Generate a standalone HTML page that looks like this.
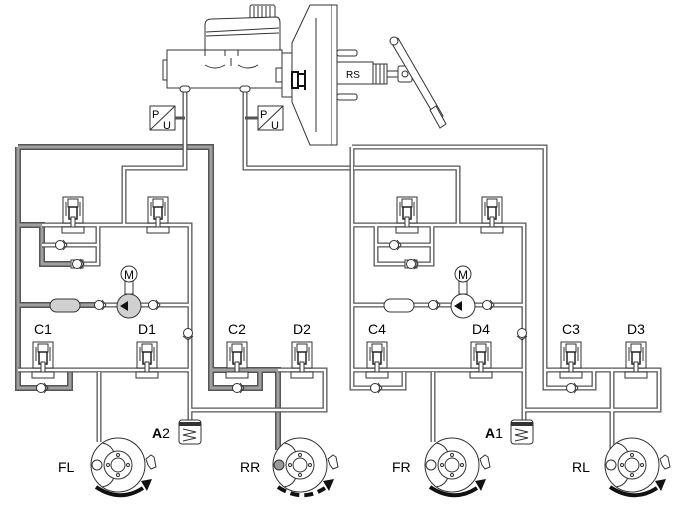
<!DOCTYPE html>
<html><head><meta charset="utf-8"><style>
html,body{margin:0;padding:0;background:#fff;}
svg{display:block;}
text{font-family:"Liberation Sans",sans-serif;}
</style></head><body>
<svg width="674" height="512" viewBox="0 0 674 512" xmlns="http://www.w3.org/2000/svg">
<defs>
<g id="valve">
 <rect x="-10" y="-14" width="20" height="26" fill="#fff" stroke="#333" stroke-width="1"/>
 <rect x="-5" y="-12" width="10" height="8" fill="#fff" stroke="#333" stroke-width="1"/>
 <rect x="-4" y="-4" width="8" height="12" fill="#fff" stroke="#222" stroke-width="1.5"/>
 <path d="M-8,-8h2M-8,-6h2M-8,-4h2M-8,-2h2M-8,0h2M-8,2h2M-8,4h2M6,-8h2M6,-6h2M6,-4h2M6,-2h2M6,0h2M6,2h2M6,4h2" stroke="#333" stroke-width="1"/>
 <rect x="-2" y="6" width="4" height="10" fill="#fff" stroke="#333" stroke-width="1"/>
 <rect x="-11" y="16" width="22" height="6" fill="#fff" stroke="#333" stroke-width="1"/>
</g>
<g id="chk">
 <circle r="4.5" fill="#fff" stroke="#333" stroke-width="1"/>
 <path d="M3,-5 L7,0 L3,5" fill="none" stroke="#333" stroke-width="1"/>
</g>
<g id="chkv">
 <circle r="4.5" fill="#fff" stroke="#333" stroke-width="1"/>
 <path d="M-5,3 L0,7 L5,3" fill="none" stroke="#333" stroke-width="1"/>
</g>
<g id="wheel">
 <circle r="27" fill="#fff" stroke="#333" stroke-width="1"/>
 <path d="M-16,-22 Q-2,-20 -2,0 Q-2,20 -16,22" fill="#fff" stroke="#333" stroke-width="1"/>
 <circle r="14" fill="#fff" stroke="#333" stroke-width="1"/>
 <circle r="7" fill="#fff" stroke="#333" stroke-width="1"/>
 <circle cx="0" cy="-10" r="1.5" fill="#fff" stroke="#333"/>
 <circle cx="0" cy="10" r="1.5" fill="#fff" stroke="#333"/>
 <circle cx="-10" cy="0" r="1.5" fill="#fff" stroke="#333"/>
 <circle cx="10" cy="0" r="1.5" fill="#fff" stroke="#333"/>
 <path d="M28,-6 l5,-4 l3,2 l2,10 l-5,2 l-3,-4 z" fill="#fff" stroke="#333"/>
</g>
<g id="acc">
 <rect x="-11" y="0" width="22" height="24" rx="3" fill="#fff" stroke="#333"/>
 <rect x="-11" y="2" width="22" height="4" fill="#333"/>
 <path d="M-7,9 L6,12 L-7,15 L6,18 L-7,21" fill="none" stroke="#333"/>
</g>
</defs>

<!-- ===== Pipes left module ===== -->
<g fill="none" stroke-linejoin="miter">
 <!-- gray active -->
 <g stroke="#555" stroke-width="6">
  <path d="M18,147 H211 V388 H260 V370"/>
  <path d="M18,147 V388 H70 V372"/>
  <path d="M18,225 H42 V264 H70"/>
  <path d="M18,305 H100"/>
  <path d="M211,370 H278 V450"/>
 </g>
 <g stroke="#a0a0a0" stroke-width="3">
  <path d="M18,147 H211 V388 H260 V370"/>
  <path d="M18,147 V388 H70 V372"/>
  <path d="M18,225 H42 V264 H70"/>
  <path d="M18,305 H100"/>
  <path d="M211,370 H278 V450"/>
 </g>
 <!-- white pipes -->
 <g id="wp" stroke="#555" stroke-width="5">
  <path d="M185,90 V168 H124 V225"/>
  <path d="M42,225 H190 V420"/>
  <path d="M42,245 H98 M70,264 H98 V225"/>
  <path d="M100,305 H190"/>
  <path d="M18,370 H190"/>
  <path d="M99,372 V442"/>
  <path d="M190,410 H325 V370 H278"/>
  <path d="M245,90 V168 H350"/>
 </g>
 <g stroke="#fff" stroke-width="2.4">
  <path d="M185,90 V168 H124 V225"/>
  <path d="M42,225 H190 V420"/>
  <path d="M42,245 H98 M70,264 H98 V225"/>
  <path d="M100,305 H190"/>
  <path d="M18,370 H190"/>
  <path d="M99,372 V442"/>
  <path d="M190,410 H325 V370 H278"/>
  <path d="M245,90 V168 H350"/>
 </g>
</g>
<!-- ===== Pipes right module (white) ===== -->
<g fill="none" transform="translate(334,0)">
 <g stroke="#555" stroke-width="5">
  <path d="M18,147 H211 V388 H260 V370"/>
  <path d="M18,147 V388 H70 V372"/>
  <path d="M18,225 H42 V264 H70"/>
  <path d="M18,305 H100"/>
  <path d="M211,370 H278 V450"/>
  <path d="M20,168 H124 V225"/>
  <path d="M42,225 H190 V420"/>
  <path d="M42,245 H98 M70,264 H98 V225"/>
  <path d="M100,305 H190"/>
  <path d="M18,370 H190"/>
  <path d="M99,372 V442"/>
  <path d="M190,410 H325 V370 H278"/>
 </g>
 <g stroke="#fff" stroke-width="2.4">
  <path d="M18,147 H211 V388 H260 V370"/>
  <path d="M18,147 V388 H70 V372"/>
  <path d="M18,225 H42 V264 H70"/>
  <path d="M18,305 H100"/>
  <path d="M211,370 H278 V450"/>
  <path d="M20,168 H124 V225"/>
  <path d="M42,225 H190 V420"/>
  <path d="M42,245 H98 M70,264 H98 V225"/>
  <path d="M100,305 H190"/>
  <path d="M18,370 H190"/>
  <path d="M99,372 V442"/>
  <path d="M190,410 H325 V370 H278"/>
 </g>
</g>

<!-- ===== Components (both modules) ===== -->
<g id="comp">
 <use href="#valve" x="73" y="211"/>
 <use href="#valve" x="158" y="211"/>
 <use href="#valve" x="43" y="356"/>
 <use href="#valve" x="147" y="356"/>
 <use href="#valve" x="237" y="356"/>
 <use href="#valve" x="302" y="356"/>
 <use href="#chk" x="60" y="245"/>
 <use href="#chk" x="99" y="305"/>
 <use href="#chk" x="153" y="305"/>
 <use href="#chkv" x="188" y="333"/>
 <use href="#chk" x="41" y="388"/>
 <use href="#chk" x="237" y="388"/>
 <rect x="71" y="260" width="12" height="8" fill="#fff" stroke="#333"/>
 <use href="#chk" x="77" y="264"/>
 <rect x="125" y="280" width="8" height="14" fill="#fff" stroke="#333"/>
 <circle cx="129" cy="274" r="8" fill="#fff" stroke="#333"/>
 <text x="129" y="279" font-size="12" text-anchor="middle">M</text>
 <rect x="50" y="299" width="30" height="13" rx="6.5" fill="#d0d0d0" stroke="#333"/>
 <circle cx="129" cy="306" r="12" fill="#d0d0d0" stroke="#333"/>
 <path d="M120,306 L128,301 L128,311 Z" fill="#111"/>
 <g font-size="14" text-anchor="middle">
  <text x="43" y="334">C1</text><text x="147" y="334">D1</text>
  <text x="237" y="334">C2</text><text x="302" y="334">D2</text>
 </g>
</g>
<g transform="translate(334,0)">
 <use href="#valve" x="73" y="211"/>
 <use href="#valve" x="158" y="211"/>
 <use href="#valve" x="43" y="356"/>
 <use href="#valve" x="147" y="356"/>
 <use href="#valve" x="237" y="356"/>
 <use href="#valve" x="302" y="356"/>
 <use href="#chk" x="60" y="245"/>
 <use href="#chk" x="99" y="305"/>
 <use href="#chk" x="153" y="305"/>
 <use href="#chkv" x="188" y="333"/>
 <use href="#chk" x="41" y="388"/>
 <use href="#chk" x="237" y="388"/>
 <rect x="71" y="260" width="12" height="8" fill="#fff" stroke="#333"/>
 <use href="#chk" x="77" y="264"/>
 <rect x="125" y="280" width="8" height="14" fill="#fff" stroke="#333"/>
 <circle cx="129" cy="274" r="8" fill="#fff" stroke="#333"/>
 <text x="129" y="279" font-size="12" text-anchor="middle">M</text>
 <rect x="50" y="299" width="30" height="13" rx="6.5" fill="#fff" stroke="#333"/>
 <circle cx="129" cy="306" r="12" fill="#fff" stroke="#333"/>
 <path d="M120,306 L128,301 L128,311 Z" fill="#111"/>
 <g font-size="14" text-anchor="middle">
  <text x="43" y="334">C4</text><text x="147" y="334">D4</text>
  <text x="237" y="334">C3</text><text x="302" y="334">D3</text>
 </g>
</g>

<!-- Accumulators -->
<use href="#acc" x="190" y="420"/>
<use href="#acc" x="522" y="420"/>
<text x="152" y="438" font-size="14" font-weight="bold">A<tspan font-weight="normal">2</tspan></text>
<text x="485" y="438" font-size="14" font-weight="bold">A<tspan font-weight="normal">1</tspan></text>

<!-- Wheels -->
<use href="#wheel" x="118" y="465"/>
<circle cx="97" cy="465" r="5" fill="#fff" stroke="#333"/>
<use href="#wheel" x="300" y="465"/>
<circle cx="279" cy="465" r="5" fill="#999" stroke="#333"/>
<use href="#wheel" x="452" y="465"/>
<circle cx="431" cy="465" r="5" fill="#fff" stroke="#333"/>
<use href="#wheel" x="632" y="465"/>
<circle cx="611" cy="465" r="5" fill="#fff" stroke="#333"/>
<g fill="none" stroke="#111" stroke-width="4">
 <path d="M96,487 Q120,503 143,488"/>
 <path d="M278,487 Q302,503 325,488" stroke-dasharray="9,5"/>
 <path d="M430,487 Q454,503 477,488"/>
 <path d="M610,487 Q634,503 657,488"/>
</g>
<g fill="#111">
 <path d="M141,481 L152,479 L147,491 Z"/>
 <path d="M323,481 L334,479 L329,491 Z"/>
 <path d="M475,481 L486,479 L481,491 Z"/>
 <path d="M655,481 L666,479 L661,491 Z"/>
</g>
<g font-size="14">
 <text x="58" y="472">FL</text><text x="240" y="472">RR</text>
 <text x="392" y="472">FR</text><text x="572" y="472">RL</text>
</g>

<!-- ===== Master cylinder / booster / pedal ===== -->
<g fill="#fff" stroke="#333" stroke-width="1">
 <rect x="250" y="5" width="25" height="14" rx="2"/>
 <path d="M254,6v12M258,6v12M262,6v12M266,6v12M270,6v12" />
 <path d="M205,50 L205,25 Q205,19 212,19 L276,17 Q280,17 280,23 L280,50 Z"/>
 <path d="M206,32 L279,28 M206,36 L279,33"/>
 <path d="M167,50 L282,50 L282,88 L167,88 Z"/>
 <path d="M163,60 L167,60 L167,80 L163,80 Z"/>
 <path d="M205,50 v6 M225,50 v6 M238,50 v6"/>
 <path d="M205,65 q10,6 20,0 M238,65 q10,6 20,0 M231,58 v8"/>
 <rect x="180" y="86" width="10" height="6" rx="3"/>
 <rect x="240" y="86" width="10" height="6" rx="3"/>
 <rect x="282" y="53" width="10" height="44"/>
 <rect x="276" y="68" width="6" height="14"/>
 <path d="M292,43 L310,5 L332,5 L332,145 L310,145 L292,102 Z"/>
 <path d="M316,18 L316,132"/>
 <path d="M332,5 L337,5 L337,145 L332,145"/>
 <rect x="337" y="50" width="20" height="6" rx="2"/>
 <rect x="337" y="94" width="20" height="6" rx="2"/>
 <rect x="337" y="62" width="36" height="22"/>
 <path d="M373,64 L387,64 L387,84 L373,84 Z M376,64 v20 M380,64 v20 M384,64 v20"/>
 <rect x="387" y="71" width="18" height="6"/>
 <rect x="398" y="66" width="14" height="16" rx="2"/>
 <circle cx="405" cy="74" r="3"/>
 <path d="M391,42 L437,120 L443,116 L398,38 Z"/>
 <circle cx="394" cy="41" r="4"/>
 <path d="M430,110 L436,106 L446,124 L440,128 Z"/>
 <rect x="150" y="106" width="25" height="24"/>
 <rect x="258" y="106" width="25" height="24"/>
 <path d="M150,130 L175,106 M258,130 L283,106"/>
</g>
<path d="M292,72 h6 v16 h-6 z M298,74 h7 v12 h-7 M305,70 v4 M305,86 v4" fill="none" stroke="#111" stroke-width="2"/>
<g font-size="11">
 <text x="152" y="118">P</text><text x="163" y="129">U</text>
 <text x="260" y="118">P</text><text x="271" y="129">U</text>
 <text x="346" y="78" font-size="10">RS</text>
</g>
<path d="M175,118 H185 M258,118 H245" stroke="#555" stroke-width="3"/>
</svg>
</body></html>
